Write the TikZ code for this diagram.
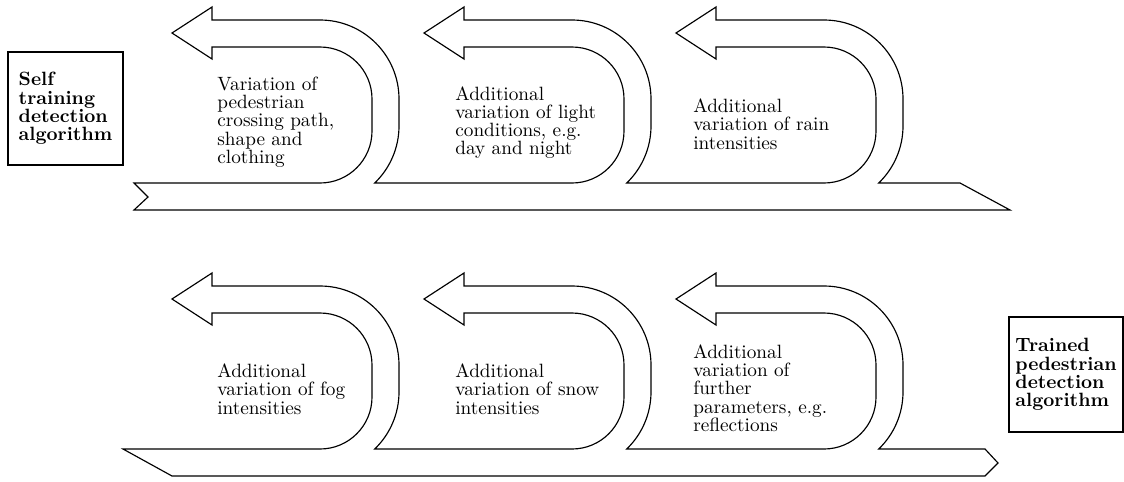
\documentclass[tikz,border=0pt]{standalone}
\begin{document}
\begin{tikzpicture}[x=0.52pt,y=-0.52pt,
  outline/.style={draw=black,line width=0.6pt,line join=miter},
  steptext/.style={anchor=west,align=left,inner sep=0pt,font=\fontsize{10}{9.5}\selectfont},
  endbox/.style={draw=black,line width=0.6pt,align=left,inner sep=0pt,font=\fontsize{10}{9.5}\selectfont\bfseries}]
\useasboundingbox (0,0) rectangle (1124,481);

% upper band with three U-turn arrows rising from it
\def\yb{183}
\draw[outline] (134,183)
  foreach \c in {320,572,824}{
    -- (\c,\yb)
    .. controls (\c+28.7,\yb) and (\c+52,\yb-23.3) .. (\c+52,\yb-52)
    -- (\c+52,\yb-84)
    .. controls (\c+52,\yb-112.7) and (\c+28.7,\yb-136) .. (\c,\yb-136)
    -- (\c-108,\yb-136) -- (\c-108,\yb-124) -- (\c-148,\yb-150)
    -- (\c-108,\yb-176) -- (\c-108,\yb-163) -- (\c,\yb-163)
    .. controls (\c+43.6,\yb-163) and (\c+79,\yb-127.6) .. (\c+79,\yb-84)
    -- (\c+79,\yb-57)
    .. controls (\c+79,\yb-35.5) and (\c+70.2,\yb-14.9) .. (\c+54.7,\yb)
  }
  -- (960,183) -- (1010,210) -- (134,210) -- (148,197) -- cycle;

% lower band with three U-turn arrows
\def\yb{449}
\draw[outline] (123,449)
  foreach \c in {320,572,824}{
    -- (\c,\yb)
    .. controls (\c+28.7,\yb) and (\c+52,\yb-23.3) .. (\c+52,\yb-52)
    -- (\c+52,\yb-84)
    .. controls (\c+52,\yb-112.7) and (\c+28.7,\yb-136) .. (\c,\yb-136)
    -- (\c-108,\yb-136) -- (\c-108,\yb-124) -- (\c-148,\yb-150)
    -- (\c-108,\yb-176) -- (\c-108,\yb-163) -- (\c,\yb-163)
    .. controls (\c+43.6,\yb-163) and (\c+79,\yb-127.6) .. (\c+79,\yb-84)
    -- (\c+79,\yb-57)
    .. controls (\c+79,\yb-35.5) and (\c+70.2,\yb-14.9) .. (\c+54.7,\yb)
  }
  -- (985,449) -- (998,463) -- (985,476) -- (172,476) -- cycle;

% step descriptions
\node[steptext] (t1) at (217,122) {Variation of\\pedestrian\\crossing path,\\shape and\\clothing};
\node[steptext] (t2) at (455,122.5) {Additional\\variation of light\\conditions, e.g.\\day and night};
\node[steptext] (t3) at (693,124) {Additional\\variation of rain\\intensities};
\node[steptext] (b1) at (217,389) {Additional\\variation of fog\\intensities};
\node[steptext] (b2) at (455,389) {Additional\\variation of snow\\intensities};
\node[steptext] (b3) at (693,388) {Additional\\variation of\\further\\parameters, e.g.\\reflections};

% start and end boxes
\node[endbox,minimum width=115*0.52pt,minimum height=113*0.52pt] (start) at (65.5,108.5) {Self\\training\\detection\\algorithm};
\node[endbox,minimum width=114*0.52pt,minimum height=115*0.52pt] (finish) at (1066,374.5) {Trained\\pedestrian\\detection\\algorithm};
\end{tikzpicture}
\end{document}
